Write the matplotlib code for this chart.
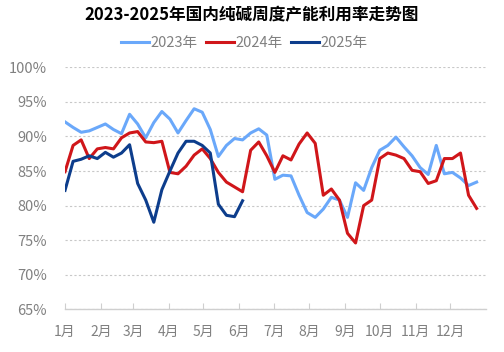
import matplotlib
matplotlib.use("Agg")
import matplotlib.pyplot as plt
import numpy as np

plt.rcParams['font.family'] = ['Noto Sans CJK SC', 'DejaVu Sans']

title = "2023-2025年国内纯碱周度产能利用率走势图"
series_names = ["2023年", "2024年", "2025年"]
months = ["1月", "2月", "3月", "4月", "5月", "6月", "7月", "8月", "9月", "10月", "11月", "12月"]
month_start_days = [0, 31, 59, 90, 120, 151, 181, 212, 243, 273, 304, 334]

v2023 = [92.1, 91.3, 90.6, 90.8, 91.3, 91.8, 91.0, 90.4, 93.2, 91.8,
         89.8, 92.0, 93.6, 92.5, 90.5, 92.3, 94.0, 93.5, 91.0, 87.1,
         88.7, 89.7, 89.5, 90.5, 91.1, 90.2, 83.8, 84.4, 84.3, 81.5,
         79.0, 78.3, 79.5, 81.2, 80.8, 78.3, 83.3, 82.2, 85.5, 88.0,
         88.7, 89.9, 88.5, 87.2, 85.5, 84.5, 88.7, 84.6, 84.8, 84.0,
         82.9, 83.4]
v2024 = [84.9, 88.7, 89.5, 86.8, 88.2, 88.4, 88.2, 89.8, 90.5, 90.7,
         89.2, 89.1, 89.3, 84.8, 84.6, 85.7, 87.3, 88.2, 86.8, 84.8,
         83.4, 82.7, 82.0, 88.0, 89.2, 87.2, 84.8, 87.2, 86.6, 88.9,
         90.5, 89.0, 81.5, 82.4, 80.8, 76.0, 74.6, 80.0, 80.8, 86.8,
         87.6, 87.3, 86.8, 85.1, 84.9, 83.2, 83.6, 86.8, 86.8, 87.6,
         81.5, 79.6]
v2025 = [82.2, 86.4, 86.7, 87.2, 86.8, 87.7, 87.0, 87.6, 88.8, 83.2,
         80.8, 77.6, 82.3, 85.0, 87.6, 89.3, 89.3, 88.7, 87.6, 80.2,
         78.6, 78.4, 80.7]

colors = ["#6AA8FA", "#D0161A", "#0D3D8C"]
gray = "#808080"

fig = plt.figure(figsize=(5.04, 3.52), dpi=100)
ax = fig.add_axes([0.129, 0.121, 0.835, 0.688])

for vals, name, c in zip([v2023, v2024, v2025], series_names, colors):
    x = np.arange(len(vals))
    ax.plot(x, vals, color=c, lw=2.2, label=name, solid_joinstyle='round')

ax.set_xlim(0, 365 / 7)
ax.set_ylim(65, 100)
ax.set_yticks(np.arange(65, 101, 5))
ax.set_yticklabels([f"{v}%" for v in range(65, 101, 5)])
ax.set_xticks([d / 7 for d in month_start_days])
ax.set_xticklabels(months)

ax.grid(axis='y', color="#C8C8C8", ls=(0, (2, 2)), lw=0.8)
ax.set_axisbelow(True)
for s in ['top', 'right', 'left']:
    ax.spines[s].set_visible(False)
ax.spines['bottom'].set_color("#CFCFCF")
ax.spines['bottom'].set_linewidth(1.0)
ax.tick_params(axis='x', direction='in', length=4, color="#CFCFCF", labelsize=10, pad=11)
ax.tick_params(axis='y', length=0, labelsize=10.5, pad=13)
for lbl in ax.get_xticklabels() + ax.get_yticklabels():
    lbl.set_color(gray)

fig.text(0.5, 0.957, title, ha='center', va='center', fontsize=12, fontweight='bold', color='black')
fig.legend(loc='center', bbox_to_anchor=(0.485, 0.877), ncol=3, frameon=False,
           fontsize=10.5, labelcolor=gray, handlelength=1.9, handletextpad=0.1,
           columnspacing=0.6)

fig.savefig("out.png", dpi=100)
